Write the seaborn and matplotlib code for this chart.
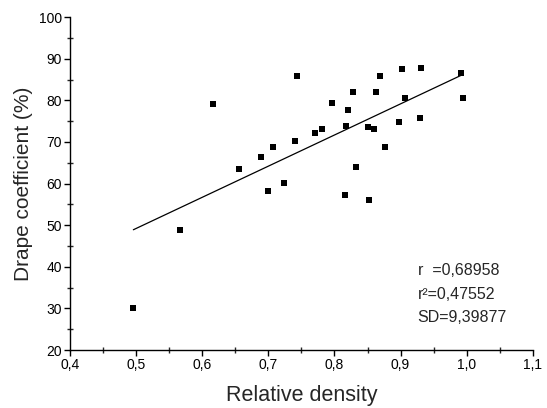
import matplotlib
matplotlib.use("Agg")
import matplotlib.pyplot as plt
import seaborn as sns
import pandas as pd
from matplotlib.ticker import MultipleLocator, FixedLocator

relative_density = [0.4958, 0.5664, 0.616, 0.655, 0.6885, 0.6995, 0.707, 0.7237,
                    0.740, 0.7434, 0.770, 0.781, 0.796, 0.8155, 0.817, 0.820,
                    0.8277, 0.8327, 0.851, 0.852, 0.8595, 0.863, 0.869, 0.877,
                    0.898, 0.902, 0.906, 0.9295, 0.9305, 0.9915, 0.994]
drape_coefficient = [30.2, 48.8, 79.1, 63.5, 66.4, 58.2, 68.8, 60.1,
                     70.2, 85.8, 72.1, 73.05, 79.4, 57.3, 73.8, 77.7,
                     82.0, 64.1, 73.5, 56.1, 73.05, 82.1, 85.8, 68.8,
                     74.8, 87.6, 80.5, 75.7, 87.7, 86.6, 80.5]

x_ticks = [0.4, 0.5, 0.6, 0.7, 0.8, 0.9, 1.0, 1.1]
x_tick_labels = ["0,4", "0,5", "0,6", "0,7", "0,8", "0,9", "1,0", "1,1"]
y_ticks = [20, 30, 40, 50, 60, 70, 80, 90, 100]
y_tick_labels = ["20", "30", "40", "50", "60", "70", "80", "90", "100"]
stats_lines = ["r  =0,68958", "r²=0,47552", "SD=9,39877"]

sns.set_style("ticks")
plt.rcParams['font.family'] = ['Liberation Sans', 'DejaVu Sans']

df = pd.DataFrame({"x": relative_density, "y": drape_coefficient})

fig = plt.figure(figsize=(5.47, 4.08), dpi=100)
ax = fig.add_axes([0.128, 0.142, 0.846, 0.816])

sns.regplot(data=df, x="x", y="y", ax=ax, ci=None, truncate=True,
            marker="s", scatter_kws=dict(s=21, color="black", linewidths=0, alpha=1),
            line_kws=dict(color="black", lw=0.9))

ax.set_xlim(0.4, 1.1)
ax.set_ylim(20, 100)
ax.xaxis.set_major_locator(FixedLocator(x_ticks))
ax.set_xticklabels(x_tick_labels)
ax.yaxis.set_major_locator(FixedLocator(y_ticks))
ax.set_yticklabels(y_tick_labels)
ax.xaxis.set_minor_locator(MultipleLocator(0.05))
ax.yaxis.set_minor_locator(MultipleLocator(5))
ax.tick_params(which="major", direction="out", length=4, width=1, labelsize=10, pad=2, colors="black")
ax.tick_params(which="minor", direction="inout", length=4, width=1)

for s in ["top", "right"]:
    ax.spines[s].set_visible(False)
for s in ["left", "bottom"]:
    ax.spines[s].set_linewidth(1)
    ax.spines[s].set_color("black")

ax.set_xlabel("Relative density", fontsize=15.5, labelpad=9)
ax.set_ylabel("Drape coefficient (%)", fontsize=15, labelpad=4)

for i, t in enumerate(stats_lines):
    ax.text(0.926, 39.0 - i * 5.6, t, fontsize=11.5, va="center", ha="left")

fig.savefig("out.png", dpi=100)
